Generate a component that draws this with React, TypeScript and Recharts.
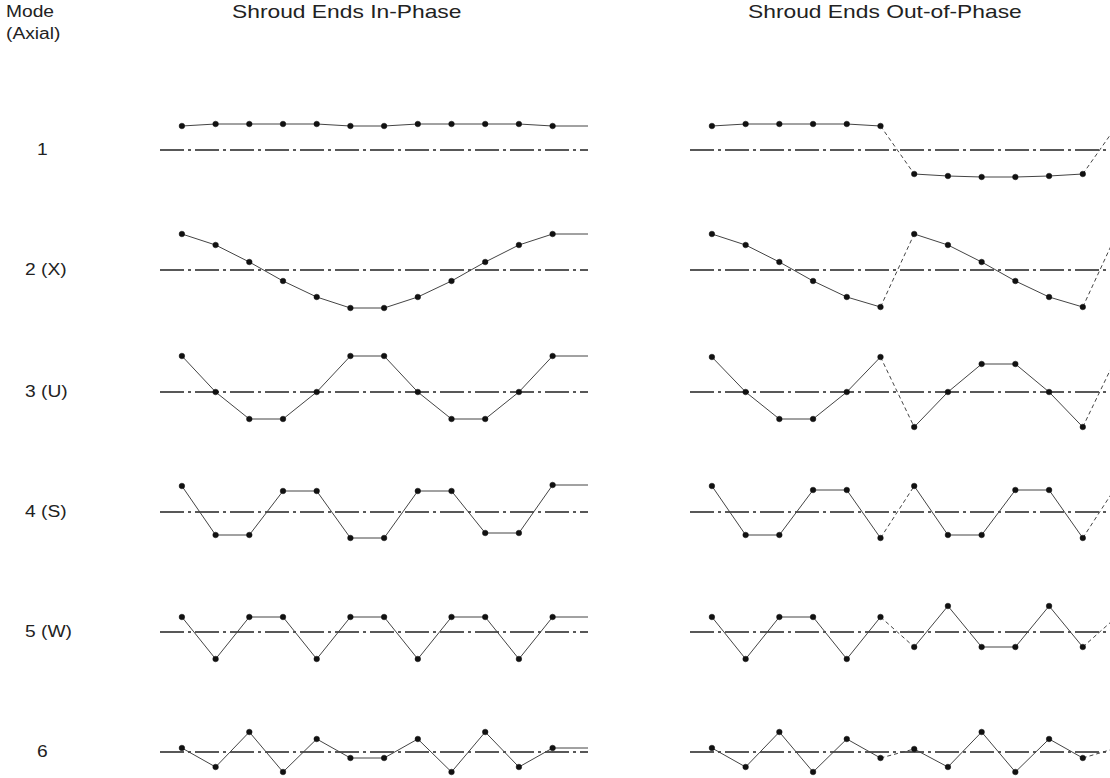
import React from 'react';
import { Line, LineChart, ReferenceLine, XAxis, YAxis } from 'recharts';

// axial stations along the shroud (index), plus where the drawn line runs off
const STATIONS = [0, 1, 2, 3, 4, 5, 6, 7, 8, 9, 10, 11];
const TAIL_X = 12.05;
const NEXT_X = 12;

const MODE_LABELS = ['1', '2 (X)', '3 (U)', '4 (S)', '5 (W)', '6'];

// relative displacement at each station, shroud ends in-phase
const inPhase1 = [24, 26, 26, 26, 26, 24, 24, 26, 26, 26, 26, 24];
const inPhase2 = [36, 25, 8, -11, -27, -38, -38, -27, -11, 8, 25, 36];
const inPhase3 = [36, 0, -27, -27, 0, 36, 36, 0, -27, -27, 0, 36];
const inPhase4 = [26, -23, -23, 21, 21, -26, -26, 21, 21, -21, -21, 27];
const inPhase5 = [15, -27, 15, 15, -27, 15, 15, -27, 15, 15, -27, 15];
const inPhase6 = [4, -15, 20, -20, 13, -6, -6, 13, -20, 20, -15, 4];

// shroud ends out-of-phase
const outPhase1 = [24, 26, 26, 26, 26, 24, -24, -26, -27, -27, -26, -24];
const outPhase2 = [36, 25, 8, -11, -27, -37, 36, 25, 8, -11, -27, -37];
const outPhase3 = [35, 0, -27, -27, 0, 35, -35, 0, 28, 28, 0, -35];
const outPhase4 = [26, -23, -23, 22, 22, -26, 26, -23, -23, 22, 22, -26];
const outPhase5 = [15, -27, 15, 15, -27, 15, -15, 26, -15, -15, 26, -15];
const outPhase6 = [4, -15, 20, -20, 13, -6, 3, -15, 20, -20, 13, -6];

const IN_PHASE = [inPhase1, inPhase2, inPhase3, inPhase4, inPhase5, inPhase6];
const OUT_PHASE = [outPhase1, outPhase2, outPhase3, outPhase4, outPhase5, outPhase6];

const ROW_CENTERS = [150, 270, 392, 512, 632, 752];
const PANEL_H = 100;
const FONT = '"Liberation Sans", Arial, sans-serif';
const INK = '#222';

function buildInPhase(vals: number[]) {
  const rows: any[] = STATIONS.map((x, i) => ({ x, v: vals[i] }));
  rows[rows.length - 1].tail = vals[vals.length - 1];
  rows.push({ x: TAIL_X, tail: vals[vals.length - 1] });
  return rows;
}

function buildOutPhase(vals: number[]) {
  const rows: any[] = STATIONS.map((x, i) => ({
    x,
    a: i <= 5 ? vals[i] : undefined,
    j1: i === 5 || i === 6 ? vals[i] : undefined,
    b: i >= 6 ? vals[i] : undefined,
    j2: i === 11 ? vals[i] : undefined,
  }));
  rows.push({ x: NEXT_X, j2: vals[0] });
  return rows;
}

const dotStyle = { r: 2.8, fill: '#111', stroke: '#111', strokeWidth: 0.5 };

function Axes({ min, max }: { min: number; max: number }) {
  return (
    <>
      <XAxis dataKey="x" type="number" domain={[min, max]} hide />
      <YAxis type="number" domain={[-50, 50]} hide />
      <ReferenceLine y={0} stroke={INK} strokeWidth={1.5} strokeDasharray="24 4 3 4" />
    </>
  );
}

function InPhasePanel({ vals, top }: { vals: number[]; top: number }) {
  return (
    <div style={{ position: 'absolute', left: 160, top }}>
      <LineChart width={428} height={PANEL_H} data={buildInPhase(vals)} margin={{ top: 0, right: 0, bottom: 0, left: 0 }}>
        <Axes min={-0.65} max={TAIL_X} />
        <Line dataKey="v" stroke="#444" strokeWidth={1} dot={dotStyle} isAnimationActive={false} />
        <Line dataKey="tail" stroke="#444" strokeWidth={1} dot={false} isAnimationActive={false} />
      </LineChart>
    </div>
  );
}

function OutPhasePanel({ vals, top }: { vals: number[]; top: number }) {
  return (
    <div style={{ position: 'absolute', left: 690, top }}>
      <LineChart width={440} height={PANEL_H} data={buildOutPhase(vals)} margin={{ top: 0, right: 0, bottom: 0, left: 0 }}>
        <Axes min={-0.65} max={12.4} />
        <Line dataKey="a" stroke="#444" strokeWidth={1} dot={dotStyle} isAnimationActive={false} />
        <Line dataKey="j1" stroke="#444" strokeWidth={1} strokeDasharray="4 3" dot={false} isAnimationActive={false} />
        <Line dataKey="b" stroke="#444" strokeWidth={1} dot={dotStyle} isAnimationActive={false} />
        <Line dataKey="j2" stroke="#444" strokeWidth={1} strokeDasharray="4 3" dot={false} isAnimationActive={false} />
      </LineChart>
    </div>
  );
}

export default function App() {
  // the scanned lettering is a little wide, so stretch it horizontally
  const text = {
    position: 'absolute' as const,
    fontFamily: FONT,
    color: INK,
    whiteSpace: 'nowrap' as const,
    transform: 'scaleX(1.2)',
    transformOrigin: 'left center',
  };
  return (
    <div
      style={{
        position: 'absolute',
        left: 0,
        top: 0,
        width: 1110,
        height: 778,
        overflow: 'hidden',
        background: '#fff',
      }}
    >
      <div style={{ ...text, left: 6, top: 1, fontSize: 16, lineHeight: '22px' }}>
        Mode
        <br />
        (Axial)
      </div>
      <div style={{ ...text, left: 232, top: 1, fontSize: 19, lineHeight: '22px' }}>Shroud Ends In-Phase</div>
      <div style={{ ...text, left: 748, top: 1, fontSize: 19, lineHeight: '22px' }}>Shroud Ends Out-of-Phase</div>

      {MODE_LABELS.map((label, i) => (
        <div
          key={label}
          style={{
            ...text,
            left: label.length === 1 ? 37 : 25,
            top: ROW_CENTERS[i] - 10,
            fontSize: 16,
            lineHeight: '20px',
          }}
        >
          {label}
        </div>
      ))}

      {IN_PHASE.map((vals, i) => (
        <InPhasePanel key={`in${i}`} vals={vals} top={ROW_CENTERS[i] - PANEL_H / 2} />
      ))}
      {OUT_PHASE.map((vals, i) => (
        <OutPhasePanel key={`out${i}`} vals={vals} top={ROW_CENTERS[i] - PANEL_H / 2} />
      ))}
    </div>
  );
}
